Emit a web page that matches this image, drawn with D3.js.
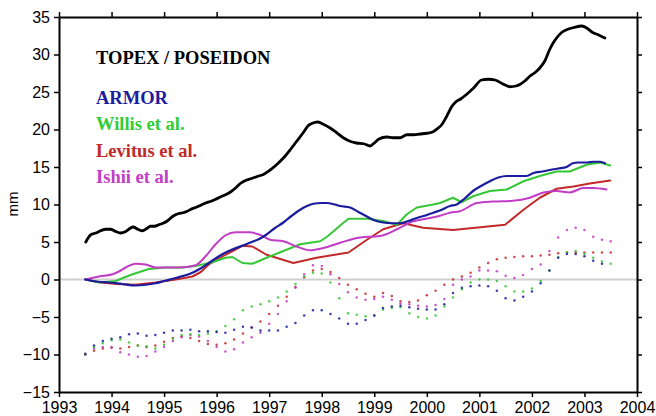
<!DOCTYPE html>
<html><head><meta charset="utf-8">
<script src="https://cdn.jsdelivr.net/npm/d3@7"></script>
<style>
html,body{margin:0;padding:0;background:#fff;}
svg{display:block;}
</style></head>
<body>
<svg id="chart" width="656" height="416"></svg>
<script>
// ---------- data ----------
const yTicks = [-15,-10,-5,0,5,10,15,20,25,30,35];
const xTicks = [1993,1994,1995,1996,1997,1998,1999,2000,2001,2002,2003,2004];
const legendLabels = ["TOPEX / POSEIDON","ARMOR","Willis et al.","Levitus et al.","Ishii et al."];

const topex = [[1993.51,5.0],[1993.56,5.6],[1993.61,6.0],[1993.7,6.2],[1993.79,6.5],[1993.9,6.7],[1993.98,6.7],[1994.08,6.4],[1994.17,6.2],[1994.27,6.4],[1994.35,6.8],[1994.41,7.0],[1994.5,6.7],[1994.59,6.5],[1994.67,6.8],[1994.74,7.1],[1994.82,7.1],[1994.9,7.3],[1994.98,7.5],[1995.06,7.8],[1995.16,8.4],[1995.28,8.8],[1995.36,8.9],[1995.44,9.1],[1995.52,9.4],[1995.6,9.6],[1995.7,9.9],[1995.79,10.2],[1995.88,10.4],[1995.98,10.7],[1996.07,11.0],[1996.17,11.3],[1996.27,11.7],[1996.36,12.2],[1996.45,12.8],[1996.55,13.2],[1996.63,13.4],[1996.72,13.6],[1996.8,13.8],[1996.89,14.0],[1997.0,14.5],[1997.14,15.3],[1997.27,16.2],[1997.4,17.3],[1997.52,18.4],[1997.65,19.6],[1997.74,20.5],[1997.81,20.8],[1997.93,21.0],[1998.03,20.7],[1998.16,20.2],[1998.28,19.6],[1998.41,18.9],[1998.55,18.4],[1998.66,18.2],[1998.8,18.1],[1998.92,17.8],[1999.0,18.2],[1999.08,18.7],[1999.24,19.0],[1999.36,18.9],[1999.49,18.9],[1999.62,19.3],[1999.75,19.3],[1999.87,19.4],[2000.0,19.5],[2000.12,19.7],[2000.2,20.1],[2000.28,20.6],[2000.35,21.4],[2000.41,22.2],[2000.47,23.0],[2000.54,23.6],[2000.65,24.1],[2000.76,24.7],[2000.9,25.6],[2001.04,26.6],[2001.17,26.7],[2001.3,26.6],[2001.44,26.1],[2001.58,25.7],[2001.7,25.8],[2001.77,26.0],[2001.87,26.5],[2001.96,27.1],[2002.06,27.6],[2002.15,28.2],[2002.25,29.2],[2002.34,30.7],[2002.41,31.6],[2002.47,32.2],[2002.56,32.9],[2002.66,33.3],[2002.8,33.6],[2002.95,33.8],[2003.05,33.5],[2003.14,33.0],[2003.27,32.6],[2003.39,32.2]];

const armor = [[1993.5,0],[1993.75,-0.3],[1993.95,-0.4],[1994.2,-0.6],[1994.46,-0.8],[1994.65,-0.7],[1994.84,-0.5],[1995.0,-0.2],[1995.22,0.2],[1995.54,0.9],[1995.7,1.5],[1995.85,2.2],[1996.0,2.9],[1996.17,3.6],[1996.33,4.1],[1996.49,4.5],[1996.63,4.9],[1996.81,5.4],[1996.95,6.0],[1997.1,6.8],[1997.27,7.6],[1997.43,8.5],[1997.59,9.3],[1997.72,9.8],[1997.84,10.1],[1998.0,10.2],[1998.09,10.2],[1998.25,10.0],[1998.35,9.8],[1998.54,9.6],[1998.7,9.0],[1998.86,8.4],[1999.0,7.9],[1999.17,7.6],[1999.33,7.5],[1999.49,7.5],[1999.65,7.8],[1999.81,8.2],[2000.0,8.6],[2000.12,8.9],[2000.25,9.2],[2000.44,9.8],[2000.57,10.0],[2000.72,10.8],[2000.88,11.8],[2001.04,12.5],[2001.2,13.1],[2001.36,13.6],[2001.52,13.8],[2001.7,13.8],[2001.9,13.8],[2002.03,14.2],[2002.2,14.4],[2002.34,14.6],[2002.5,14.8],[2002.66,15.0],[2002.78,15.5],[2002.88,15.6],[2003.05,15.6],[2003.17,15.7],[2003.3,15.7],[2003.39,15.5]];

const willis = [[1993.5,0],[1993.76,-0.4],[1994.08,-0.2],[1994.25,0.3],[1994.4,0.7],[1994.71,1.4],[1995.03,1.6],[1995.35,1.6],[1995.6,1.8],[1995.92,2.3],[1996.17,2.9],[1996.3,3.0],[1996.49,2.2],[1996.68,2.1],[1996.95,2.9],[1997.27,3.8],[1997.59,4.7],[1997.97,5.1],[1998.1,5.7],[1998.22,6.4],[1998.4,7.5],[1998.51,8.1],[1998.86,8.1],[1999.17,7.8],[1999.43,7.3],[1999.62,8.7],[1999.81,9.6],[2000.12,10.0],[2000.25,10.2],[2000.5,10.9],[2000.66,10.3],[2000.88,11.1],[2001.2,11.8],[2001.52,12.0],[2001.84,13.1],[2002.15,13.8],[2002.47,14.4],[2002.72,14.4],[2003.04,15.3],[2003.3,15.6],[2003.49,15.2]];

const levitus = [[1993.5,0],[1993.8,-0.4],[1994.1,-0.6],[1994.45,-0.7],[1994.84,-0.4],[1995.22,0.0],[1995.54,0.4],[1995.7,1.0],[1995.85,2.0],[1996.17,3.3],[1996.49,4.5],[1996.68,4.4],[1996.95,3.3],[1997.46,2.2],[1997.9,2.9],[1998.51,3.6],[1998.86,5.3],[1999.17,6.7],[1999.55,7.5],[1999.93,6.9],[2000.5,6.6],[2001.49,7.3],[2001.84,9.3],[2002.15,10.9],[2002.47,12.1],[2002.79,12.4],[2003.1,12.8],[2003.49,13.2]];

const ishii = [[1993.5,0],[1993.76,0.4],[1994.02,0.7],[1994.15,1.1],[1994.27,1.6],[1994.46,2.1],[1994.65,2.0],[1994.84,1.6],[1995.1,1.6],[1995.28,1.6],[1995.6,1.9],[1995.79,3.1],[1995.98,4.7],[1996.17,5.9],[1996.36,6.3],[1996.62,6.3],[1996.81,6.0],[1997.02,5.3],[1997.27,5.1],[1997.52,4.4],[1997.78,3.9],[1998.03,4.2],[1998.35,4.9],[1998.73,5.6],[1999.11,5.8],[1999.43,6.7],[1999.68,7.6],[2000.06,8.2],[2000.25,8.5],[2000.44,8.9],[2000.63,9.1],[2000.95,10.2],[2001.26,10.4],[2001.64,10.5],[2001.96,10.9],[2002.22,11.6],[2002.47,11.8],[2002.72,11.6],[2002.98,12.2],[2003.17,12.2],[2003.42,12.0]];

// dotted residual series, sampled every two months from mid-1993
const dotStart = 1993.5;
const dotStep = 1/6;
const armorDots = [-9.9,-8.8,-8.2,-7.9,-7.7,-7.3,-7.2,-7.5,-7.4,-7.1,-6.8,-6.8,-6.7,-6.9,-6.9,-7.0,-7.1,-6.7,-6.3,-6.4,-6.8,-6.8,-6.8,-6.3,-5.8,-4.8,-4.1,-4.1,-4.6,-5.2,-5.9,-5.9,-5.4,-4.8,-3.8,-3.6,-3.5,-3.7,-3.9,-4.0,-4.0,-3.3,-1.8,-1.1,-0.9,-0.8,-0.9,-1.5,-2.5,-2.8,-2.3,-1.6,-0.5,1.2,2.9,3.4,3.4,3.1,2.5,2.1];
const willisDots = [-10.0,-9.0,-8.5,-8.1,-8.0,-8.4,-8.8,-8.9,-9.2,-8.7,-7.9,-7.4,-7.3,-7.4,-7.2,-6.9,-6.2,-5.3,-4.1,-3.6,-3.3,-2.9,-2.4,-1.6,-0.6,0.4,0.9,0.8,-0.4,-2.5,-4.5,-4.7,-4.9,-4.8,-4.0,-3.8,-3.7,-4.5,-5.0,-5.2,-4.8,-3.6,-2.4,-1.3,-0.4,0.0,0.0,-0.2,-0.9,-1.6,-1.6,-1.2,-0.2,1.2,3.0,3.6,3.8,3.4,2.9,2.4,2.1];
const levitusDots = [-10.0,-9.5,-9.2,-9.1,-9.2,-9.0,-8.8,-9.0,-8.8,-8.3,-7.8,-7.6,-7.8,-8.2,-8.6,-8.7,-8.5,-8.0,-7.2,-6.4,-5.6,-4.6,-3.5,-2.3,-1.0,0.3,1.2,1.4,1.0,0.2,-0.7,-1.3,-1.9,-2.3,-1.8,-2.2,-2.9,-3.0,-2.8,-2.1,-1.5,-0.7,0.0,0.4,0.9,1.6,2.2,2.7,2.9,3.0,3.1,3.1,3.2,3.3,3.5,3.6,3.6,3.6,3.6,3.6,3.6];
const ishiiDots = [-10.0,-9.2,-9.0,-9.0,-9.7,-10.0,-10.3,-10.2,-9.6,-9.0,-8.2,-7.7,-7.4,-7.6,-8.2,-9.0,-9.6,-9.3,-8.4,-7.7,-7.1,-5.9,-4.6,-2.9,-1.1,0.7,1.9,1.8,0.7,-0.6,-1.7,-2.4,-2.7,-2.6,-2.3,-2.7,-3.2,-3.3,-3.5,-3.6,-3.4,-2.6,-0.7,0.0,0.4,1.2,1.2,1.1,0.5,0.2,0.6,1.4,2.0,3.8,5.6,6.6,6.9,6.6,5.7,5.3,5.1];

// ---------- drawing ----------
const svg = d3.select("#chart");
const M = {left:59, right:637, top:17, bottom:392};
const x = d3.scaleLinear().domain([1993,2004]).range([M.left, M.right]);
const y = d3.scaleLinear().domain([-15,35]).range([M.bottom, M.top]);

const C = {topex:"#000000", armor:"#1c1c9e", willis:"#36c736", levitus:"#c22a2a", ishii:"#c23cc6"};

// zero line
svg.append("line").attr("x1",M.left).attr("x2",M.right)
  .attr("y1",y(0)).attr("y2",y(0)).attr("stroke","#cfcfcf").attr("stroke-width",2);

// dotted series
function dots(vals, color){
  svg.append("g").selectAll("circle").data(vals).join("circle")
    .attr("cx",(d,i)=>x(dotStart + i*dotStep)).attr("cy",d=>y(d))
    .attr("r",1.25).attr("fill",color).attr("opacity",0.85);
}
dots(levitusDots, C.levitus);
dots(ishiiDots, C.ishii);
dots(willisDots, C.willis);
dots(armorDots, C.armor);

// lines
function line(data, color, w, curve){
  svg.append("path").datum(data)
    .attr("d", d3.line().x(d=>x(d[0])).y(d=>y(d[1])).curve(curve))
    .attr("fill","none").attr("stroke",color).attr("stroke-width",w)
    .attr("stroke-linejoin","round").attr("stroke-linecap","round");
}
line(levitus, C.levitus, 2, d3.curveLinear);
line(willis, C.willis, 2, d3.curveLinear);
line(ishii, C.ishii, 2, d3.curveMonotoneX);
line(armor, C.armor, 2.2, d3.curveMonotoneX);
line(topex, C.topex, 2.8, d3.curveMonotoneX);

// axes
const fontTick = "'Liberation Sans', Arial, Helvetica, sans-serif";
function styleAxis(g){
  g.select(".domain").attr("stroke","#000").attr("stroke-width",2);
  g.selectAll(".tick line").attr("stroke","#000").attr("stroke-width",1.5);
  g.selectAll(".tick text").attr("fill","#000").style("font-family",fontTick).style("font-size","16px");
}
svg.append("g").attr("transform",`translate(${M.left},0)`)
  .call(d3.axisLeft(y).tickValues(yTicks).tickSize(5).tickPadding(4).tickSizeOuter(0).tickFormat(d3.format("d")))
  .call(styleAxis);
svg.append("g").attr("transform",`translate(${M.right},0)`)
  .call(d3.axisRight(y).tickValues(yTicks).tickSize(5).tickSizeOuter(0).tickFormat(""))
  .call(styleAxis);
svg.append("g").attr("transform",`translate(0,${M.bottom})`)
  .call(d3.axisBottom(x).tickValues(xTicks).tickSize(5).tickPadding(5).tickSizeOuter(0).tickFormat(d3.format("d")))
  .call(styleAxis);
svg.append("g").attr("transform",`translate(0,${M.top})`)
  .call(d3.axisTop(x).tickValues(xTicks).tickSize(5).tickSizeOuter(0).tickFormat(""))
  .call(styleAxis);

// y label
svg.append("text").attr("transform",`translate(18,204) rotate(-90)`)
  .attr("text-anchor","middle").style("font-family",fontTick).style("font-size","15px").text("mm");

// legend text
const legendColors = [C.topex, C.armor, "#33cc33", C.levitus, C.ishii];
const legendY = [64,104,130,157,183];
svg.append("g").selectAll("text").data(legendLabels).join("text")
  .attr("x",96).attr("y",(d,i)=>legendY[i])
  .attr("fill",(d,i)=>legendColors[i])
  .style("font-family","'Liberation Serif','Times New Roman',Times,serif")
  .style("font-weight","bold").style("font-size","18.5px")
  .text(d=>d);
</script>
</body></html>
